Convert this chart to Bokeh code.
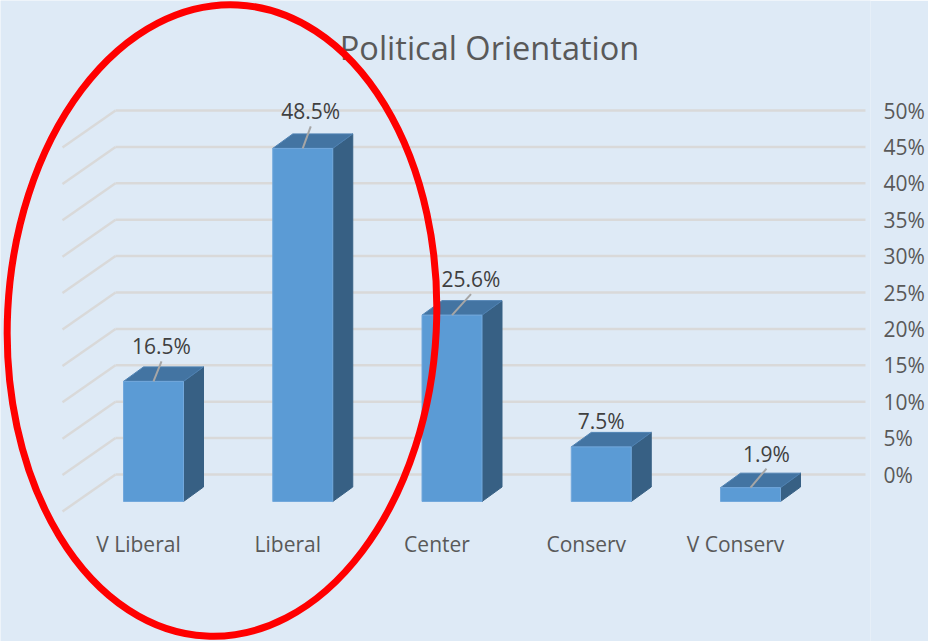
from bokeh.plotting import figure
from bokeh.embed import file_html
from bokeh.resources import INLINE
from bokeh.core.properties import value
from bokeh.models import FixedTicker, PrintfTickFormatter, LinearAxis, Range1d

categories = ["V Liberal", "Liberal", "Center", "Conserv", "V Conserv"]
shares = [16.5, 48.5, 25.6, 7.5, 1.9]
y_ticks = [0, 5, 10, 15, 20, 25, 30, 35, 40, 45, 50]
title_text = "Political Orientation"

# scale of the picture
PX_PER_CAT = 149.25
PX_PER_PCT = 7.28
X0_PX, Y0_PX = 153.0, 474.0     # first bar centre; 0% on the back wall
def ux(px): return px / PX_PER_CAT
def uy(px): return px / PX_PER_PCT
def X(px): return (px - X0_PX) / PX_PER_CAT
def Y(py): return (Y0_PX - py) / PX_PER_PCT

BG = "#deeaf6"
FRONT, TOP, SIDE = "#5b9bd5", "#4374a2", "#376084"
BAR_HALF = ux(30)
DEPTH_X, DEPTH_Y = ux(20), uy(14.5)
BASE = -uy(27)

p = figure(width=928, height=641, output_backend="svg", toolbar_location=None,
           x_range=Range1d(X(0), X(870)), y_range=Range1d(Y(641), Y(0)),
           min_border_left=0, min_border_top=0, min_border_bottom=0, min_border_right=58,
           background_fill_color=BG, border_fill_color=BG, outline_line_color=None,
           x_axis_location=None, y_axis_location=None)
p.grid.visible = False

axis = LinearAxis(ticker=FixedTicker(ticks=y_ticks), formatter=PrintfTickFormatter(format="%d%%"),
                  axis_line_color=None, major_tick_line_color=None, minor_tick_line_color=None,
                  major_tick_out=0, major_tick_in=0, minor_tick_out=0, minor_tick_in=0,
                  major_label_text_font="Open Sans", major_label_text_font_size="21px",
                  major_label_text_color="#595959", major_label_standoff=13)
p.add_layout(axis, "right")

# gridlines: back wall and left wall
GRID = "#d9d9d9"
p.segment(x0=[X(115)] * len(y_ticks), y0=y_ticks, x1=[X(865)] * len(y_ticks), y1=y_ticks,
          line_color=GRID, line_width=2.5)
p.segment(x0=[X(62)] * len(y_ticks), y0=[t - uy(37) for t in y_ticks],
          x1=[X(115)] * len(y_ticks), y1=y_ticks, line_color=GRID, line_width=2.5)

# bars
for i, v in enumerate(shares):
    l, r = i - BAR_HALF, i + BAR_HALF
    t = BASE + v
    p.patch([r, r + DEPTH_X, r + DEPTH_X, r], [BASE, BASE + DEPTH_Y, t + DEPTH_Y, t],
            fill_color=SIDE, line_color=SIDE, line_width=1)
    p.patch([l, r, r + DEPTH_X, l + DEPTH_X], [t, t, t + DEPTH_Y, t + DEPTH_Y],
            fill_color=TOP, line_color="#4f82b3", line_width=1)
    p.quad(left=l, right=r, bottom=BASE, top=t, fill_color=FRONT, line_color="#72a8dc", line_width=1)

# data labels and leader lines
label_dx = [8, 8, 19, 0, 16]
label_dy = [35, 37, 36, 26, 34]
bar_top = [BASE + v for v in shares]
for i, (v, dx, dy) in enumerate(zip(shares, label_dx, label_dy)):
    if dx:
        p.segment(x0=i, y0=bar_top[i], x1=i + ux(dx), y1=bar_top[i] + uy(dy - 15 if dy > 30 else 0),
                  line_color="#a6a6a6", line_width=2)
p.text(x=[i + ux(d) for i, d in enumerate(label_dx)],
       y=[t + uy(d) for t, d in zip(bar_top, label_dy)],
       text=[f"{v}%" for v in shares], text_font=value("Open Sans"), text_font_size="21px",
       text_color="#404040", text_align="center", text_baseline="middle")

# category labels
p.text(x=[i - ux(15) for i in range(len(categories))], y=[Y(543)] * len(categories), text=categories,
       text_font=value("Open Sans"), text_font_size="21px", text_color="#595959",
       text_align="center", text_baseline="middle")

# title
p.text(x=[X(489)], y=[Y(47)], text=[title_text], text_font=value("Open Sans"), text_font_size="32.5px",
       text_color="#595959", text_align="center", text_baseline="middle")

# red annotation ellipse
p.ellipse(x=[X(221.5)], y=[Y(320)], width=[429], height=[632], angle=[-0.05],
          width_units="screen", height_units="screen",
          fill_color=None, line_color="#ff0000", line_width=7)

open("out.html", "w").write(file_html(p, INLINE))
